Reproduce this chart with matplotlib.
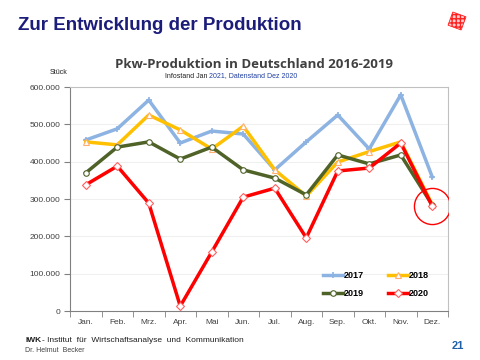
import numpy as np
import matplotlib
matplotlib.use("Agg")
import matplotlib.pyplot as plt
from matplotlib.patches import Rectangle
from matplotlib.ticker import FuncFormatter, FixedLocator
import matplotlib.transforms as mtransforms

# data
months = ["Jan.", "Feb.", "Mrz.", "Apr.", "Mai", "Jun.", "Jul.", "Aug.", "Sep.", "Okt.", "Nov.", "Dez."]
p2017 = [458000, 488000, 565000, 450000, 482000, 474000, 378000, 453000, 525000, 434000, 579000, 359000]
p2018 = [453000, 445000, 525000, 485000, 434000, 495000, 378000, 308000, 399000, 427000, 453000, 285000]
p2019 = [370000, 439000, 453000, 407000, 439000, 378000, 356000, 311000, 418000, 394000, 418000, 284000]
p2020 = [338000, 388000, 289000, 13000, 158000, 305000, 329000, 196000, 375000, 383000, 450000, 281000]

fig = plt.figure(figsize=(4.8, 3.6), dpi=100)
ax = fig.add_axes([70/480, 49/360, 378/480, 224/360])

x = np.arange(len(months))
l17, = ax.plot(x, p2017, color="#8db3e2", lw=2.5, marker="+", ms=5, mew=1.2, label="2017", zorder=3)
l18, = ax.plot(x, p2018, color="#ffc000", lw=2.5, marker="^", ms=4, mfc="white", mec="#ffb070", mew=0.8, label="2018", zorder=4)
l19, = ax.plot(x, p2019, color="#4f6228", lw=2.5, marker="o", ms=4, mfc="white", mec="#4f6228", mew=0.8, label="2019", zorder=5)
l20, = ax.plot(x, p2020, color="#ff0000", lw=2.5, marker="D", ms=4, mfc="white", mec="#ff6060", mew=0.8, label="2020", zorder=6)

# red circle around last point
ax.plot([x[-1]], [p2020[-1]], marker="o", ms=26, mfc="none", mec="#ff0000", mew=1.0, zorder=7)

ax.set_xlim(-0.5, 11.5)
ax.set_ylim(0, 600000)
ax.set_xticks(x)
ax.set_xticklabels(months, fontsize=6, color="#404040", family="Liberation Sans")
ax.xaxis.set_minor_locator(FixedLocator(np.arange(-0.5, 12, 1)))
ax.tick_params(axis="x", which="major", length=0, pad=6)
ax.tick_params(axis="x", which="minor", length=4, color="#808080", direction="out")
ax.set_yticks(np.arange(0, 600001, 100000))
ax.yaxis.set_major_formatter(FuncFormatter(lambda v, p: "0" if v == 0 else "{:,.0f}".format(v).replace(",", ".")))
ax.tick_params(axis="y", length=4, color="#808080", labelsize=6, labelcolor="#404040", pad=3)
for lbl in ax.get_yticklabels():
    lbl.set_family("Liberation Sans")
ax.grid(axis="y", color="#ececec", lw=0.6)
ax.set_axisbelow(True)
for s in ["top", "right"]:
    ax.spines[s].set_color("#c0c0c0")
for s in ["left", "bottom"]:
    ax.spines[s].set_color("#808080")

# legend: 2017 2018 / 2019 2020
ax.legend([l17, l19, l18, l20], ["2017", "2019", "2018", "2020"], loc="lower right", ncol=2,
          frameon=False, handlelength=2.2, columnspacing=2.6, handletextpad=0.1,
          labelspacing=1.0, bbox_to_anchor=(0.97, 0.02),
          prop={"family": "Liberation Sans", "weight": "bold", "size": 6.5})

# texts
fig.text(18/480, 1 - 30/360, "Zur Entwicklung der Produktion", fontsize=13.5, fontweight="bold",
         color="#1c1c7a", family="Liberation Sans")
fig.text(254/480, 1 - 64/360, "Pkw-Produktion in Deutschland 2016-2019", fontsize=9.5,
         fontweight="bold", color="#404040", ha="center", va="center", family="Open Sans")
fig.text(165/480, 1 - 76/360, "Infostand Jan ", fontsize=5, color="#202020", va="center", family="Liberation Sans")
fig.text(209/480, 1 - 76/360, "2021, Datenstand Dez 2020", fontsize=5, color="#1f3fa0", va="center", family="Liberation Sans")
fig.text(50/480, 1 - 72/360, "Stück", fontsize=5, color="#202020", va="center", family="Liberation Sans")
fig.text(25/480, 1 - 341/360, "IWK", fontsize=6, fontweight="bold", color="#202020", va="center", family="Liberation Sans")
fig.text(42/480, 1 - 341/360, "- Institut  für  Wirtschaftsanalyse  und  Kommunikation", fontsize=6,
         color="#202020", va="center", family="Liberation Sans")
fig.text(25/480, 1 - 350/360, "Dr. Helmut  Becker", fontsize=5, color="#404040", va="center", family="Liberation Sans")
fig.text(452/480, 1 - 346/360, "21", fontsize=8, fontweight="bold", color="#1f5fa8", va="center", family="Liberation Sans")

# logo (small rotated red maze-like square)
logo = Rectangle((450, 332), 14, 14, transform=mtransforms.IdentityTransform(), angle=-20,
                 rotation_point="center", facecolor="#ffd0d0", edgecolor="#ff2020", hatch="++++", lw=0.6)
fig.patches.append(logo)

fig.savefig("out.png", dpi=100)
